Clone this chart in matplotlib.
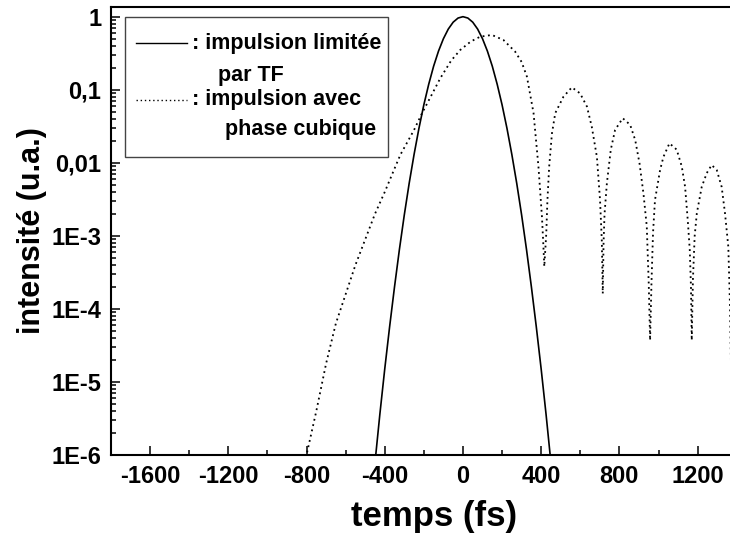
#!/usr/bin/env python3

import numpy as np
import matplotlib
matplotlib.use("Agg")
import matplotlib.pyplot as plt
from matplotlib.patches import Rectangle

plt.rcParams['font.family'] = ['Liberation Sans', 'DejaVu Sans']
plt.rcParams['font.weight'] = 'bold'
plt.rcParams['axes.unicode_minus'] = False

# impulsion limitee par TF (temps en fs, intensite u.a.)
sol_t = [-450, -425, -400, -375, -350, -325, -300, -275, -250, -225, -200, -175,
         -150, -125, -100, -75, -50, -25, 0, 25, 50, 75, 100, 125, 150, 175,
         200, 225, 250, 275, 300, 325, 350, 375, 400, 425, 450]
sol_I = [7.8e-7, 3.6e-6, 1.5e-5, 5.7e-5, 2.0e-4, 6.5e-4, 1.93e-3, 5.24e-3,
         0.0130, 0.0297, 0.0622, 0.119, 0.210, 0.338, 0.499, 0.677, 0.841,
         0.958, 1.0, 0.958, 0.841, 0.677, 0.499, 0.338, 0.210, 0.119, 0.0622,
         0.0297, 0.0130, 5.24e-3, 1.93e-3, 6.5e-4, 2.0e-4, 5.7e-5, 1.5e-5,
         3.6e-6, 7.8e-7]

# impulsion avec phase cubique (log10 de l'intensite)
dot_t = [-830, -800, -750, -700, -650, -600, -550, -500, -450, -400, -350, -320,
         -250, -209, -160, -116, -60, -14, 40, 88, 148, 207, 267, 300, 327, 361,
         386, 404, 410, 416, 426, 432, 441, 455, 472, 514, 557, 599, 634, 659,
         685, 701, 710, 715, 719, 724, 736, 756, 778, 817, 855, 881, 903, 923,
         940, 950, 957, 964, 972, 982, 1008, 1025, 1056, 1093, 1119, 1136, 1150,
         1160, 1166, 1170, 1176, 1185, 1196, 1221, 1247, 1272, 1298, 1323, 1340,
         1357, 1366, 1372]
dot_log = [-6.4, -6.0, -5.4, -4.75, -4.2, -3.8, -3.4, -3.05, -2.7, -2.4, -2.08,
           -1.89, -1.55, -1.32, -1.07, -0.843, -0.6, -0.456, -0.34, -0.274, -0.25,
           -0.319, -0.479, -0.62, -0.82, -1.32, -2.05, -2.74, -3.06, -3.42, -2.97,
           -2.51, -2.05, -1.60, -1.32, -1.095, -0.967, -1.05, -1.23, -1.51, -1.92,
           -2.51, -3.06, -3.79, -3.1, -2.7, -2.28, -1.82, -1.55, -1.39, -1.48,
           -1.69, -2.01, -2.42, -2.87, -3.65, -4.43, -3.65, -2.96, -2.51, -2.10,
           -1.92, -1.733, -1.82, -2.05, -2.33, -2.8, -3.2, -3.7, -4.43, -3.6,
           -3.0, -2.69, -2.33, -2.14, -2.03, -2.10, -2.33, -2.69, -3.15, -4.0,
           -5.0]

xticks = [-1600, -1200, -800, -400, 0, 400, 800, 1200]
yticks = [1e-6, 1e-5, 1e-4, 1e-3, 1e-2, 1e-1, 1]
ylabels = ['1E-6', '1E-5', '1E-4', '1E-3', '0,01', '0,1', '1']


def main():
    fig = plt.figure(figsize=(7.30, 5.35), dpi=100)
    ax = fig.add_axes([0.152, 0.1495, 0.884, 0.838])

    ax.plot(sol_t, sol_I, color='black', lw=1.2, solid_capstyle='butt')
    ax.plot(dot_t, 10 ** np.array(dot_log), color='black', lw=1.3,
            linestyle=(0, (1, 2)))

    ax.set_yscale('log')
    ax.set_xlim(-1800, 1500)
    ax.set_ylim(1e-6, 1.37)

    ax.set_xticks(xticks)
    ax.set_xticks([-1400, -1000, -600, -200, 200, 600, 1000, 1400], minor=True)
    ax.set_yticks(yticks)
    ax.set_yticklabels(ylabels)

    ax.tick_params(which='both', direction='in', top=False, right=False,
                   width=1.1, labelsize=17)
    ax.tick_params(which='major', length=6.5)
    ax.tick_params(which='minor', length=3.5)
    ax.tick_params(axis='y', pad=7)
    ax.tick_params(axis='x', pad=7)
    for s in ax.spines.values():
        s.set_linewidth(1.5)

    ax.set_xlabel('temps (fs)', fontsize=25, fontweight='bold')
    ax.xaxis.set_label_coords(0.5, -0.1)
    ax.xaxis.label.set_va('top')
    ax.set_ylabel('intensité (u.a.)', fontsize=22, fontweight='bold')
    ax.yaxis.set_label_coords(-0.0996, 0.5)

    # legende dessinee a la main
    tr = ax.transAxes
    ax.add_patch(Rectangle((0.0217, 0.6654), 0.4071, 0.3116, transform=tr,
                           fill=False, edgecolor='#444444', lw=1.0))
    ax.plot([0.0387, 0.1178], [0.919, 0.919], transform=tr, color='black', lw=1.0)
    ax.plot([0.0387, 0.1178], [0.7919, 0.7919], transform=tr, color='black',
            lw=1.0, linestyle=(0, (1, 2)))
    fs = 15.5
    ax.text(0.1251, 0.919, ': impulsion limitée', transform=tr, fontsize=fs,
            va='center', ha='left')
    ax.text(0.1663, 0.8476, 'par TF', transform=tr, fontsize=fs,
            va='center', ha='left')
    ax.text(0.1251, 0.7919, ': impulsion avec', transform=tr, fontsize=fs,
            va='center', ha='left')
    ax.text(0.1767, 0.725, 'phase cubique', transform=tr, fontsize=fs,
            va='center', ha='left')

    fig.savefig('out.png', dpi=100)


if __name__ == '__main__':
    main()
